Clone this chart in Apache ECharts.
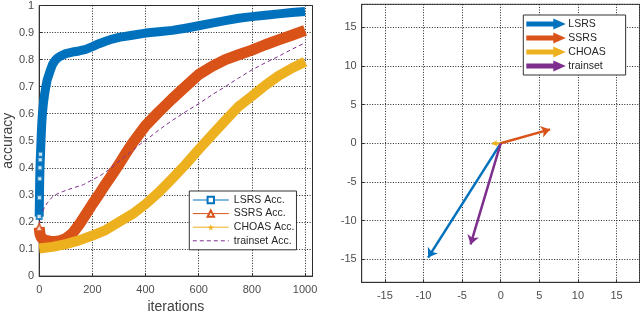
<!DOCTYPE html>
<html><head><meta charset="utf-8">
<script src="https://cdn.jsdelivr.net/npm/echarts@6/dist/echarts.min.js"></script>
<style>html,body{margin:0;padding:0;background:#fff}#c{width:640px;height:319px}</style>
</head><body><div id="c"></div>
<script>
// ---- Left chart data ----
const lsrsIter = [0,1,2,3,4,5,6,8,10,13,16,20,25,30,40,50,60,70,80,100,125,150,175,200,225,250,275,300,350,400,450,500,550,600,650,700,750,800,850,900,950,1000];
const lsrsAcc  = [0.22,0.29,0.36,0.40,0.43,0.45,0.48,0.53,0.57,0.61,0.64,0.67,0.70,0.725,0.755,0.782,0.797,0.807,0.813,0.822,0.828,0.832,0.838,0.848,0.859,0.868,0.876,0.882,0.890,0.898,0.903,0.908,0.916,0.925,0.935,0.944,0.953,0.959,0.964,0.969,0.974,0.978];
const ssrsIter = [0,3,8,20,40,60,80,100,125,150,175,200,225,250,275,300,325,350,375,400,450,500,550,600,650,700,750,800,850,900,950,1000];
const ssrsAcc  = [0.18,0.155,0.142,0.133,0.129,0.128,0.131,0.139,0.158,0.19,0.228,0.266,0.302,0.34,0.376,0.413,0.452,0.49,0.523,0.556,0.607,0.655,0.70,0.745,0.775,0.80,0.818,0.835,0.855,0.873,0.89,0.908];
const choasIter = [0,50,100,150,200,250,300,350,400,450,500,550,600,650,700,750,800,850,900,950,1000];
const choasAcc  = [0.102,0.108,0.118,0.132,0.15,0.17,0.2,0.229,0.266,0.31,0.36,0.412,0.468,0.522,0.575,0.627,0.665,0.705,0.74,0.768,0.792];
const trainIter = [0,5,12,20,31,45,56,75,93,125,167,200,228,260,290,320,352,380,414,450,500,550,600,650,700,750,800,850,900,950,1000];
const trainAcc  = [0.19,0.215,0.235,0.255,0.271,0.288,0.298,0.307,0.314,0.325,0.338,0.356,0.370,0.392,0.416,0.44,0.464,0.488,0.512,0.54,0.575,0.607,0.637,0.67,0.70,0.732,0.762,0.788,0.812,0.838,0.862];
const leftNames = ['LSRS Acc.','SSRS Acc.','CHOAS Acc.','trainset Acc.'];

// ---- Right chart data (quiver vectors from origin) ----
const vecNames = ['LSRS','SSRS','CHOAS','trainset'];
const vecDx = [-9.4, 6.4, -1.1, -3.9];
const vecDy = [-14.8, 1.8, 0, -13.1];

// ---- styles ----
const C = {blue:'#0072BD', red:'#D95319', yellow:'#EDB120', purple:'#7E2F8E'};
const vecColors = [C.blue, C.red, C.yellow, C.purple];
const vecHead = [9, 9, 5, 9];
const FONT = "'Liberation Sans', Arial, sans-serif";
const star = 'path://M50,0 L61,35 L98,35 L68,57 L79,91 L50,70 L21,91 L32,57 L2,35 L39,35 Z';
const arrowIcon = 'path://M0,3 L27,3 L27,0.5 L36,4.5 L27,8.5 L27,6 L0,6 Z';
const zip = (xs, ys) => xs.map((x, i) => [x, ys[i]]);

const gridLine = {show:true, lineStyle:{color:'#222', width:1, type:[1,1.6]}};
const axLine = {show:true, onZero:false, lineStyle:{color:'#333', width:1}};
const lab = {fontSize:11, color:'#4d4d4d', fontFamily:FONT, formatter: v => String(v)};

const bands = [
  {name:'LSRS band', data:zip(lsrsIter, lsrsAcc), color:C.blue, w:9},
  {name:'SSRS band', data:zip(ssrsIter, ssrsAcc), color:C.red, w:11},
  {name:'CHOAS band', data:zip(choasIter, choasAcc), color:C.yellow, w:10}
];

const series = [];
bands.forEach(b => series.push({
  type:'line', name:b.name, xAxisIndex:0, yAxisIndex:0, data:b.data, showSymbol:false, symbol:'none',
  lineStyle:{color:b.color, width:b.w, join:'round'}, itemStyle:{color:b.color}, silent:true, animation:false, z:2
}));
series.push({type:'line', name:'trainset line', xAxisIndex:0, yAxisIndex:0, data:zip(trainIter, trainAcc),
  showSymbol:false, symbol:'none', lineStyle:{color:C.purple, width:1, type:[4,3]}, animation:false, z:3});
// early separate markers
series.push({type:'scatter', name:'LSRS early', xAxisIndex:0, yAxisIndex:0,
  data:zip(lsrsIter, lsrsAcc).slice(0,6), symbol:'emptyRect', symbolSize:5,
  itemStyle:{color:C.blue, borderWidth:1}, animation:false, z:4});
series.push({type:'scatter', name:'SSRS early', xAxisIndex:0, yAxisIndex:0,
  data:zip(ssrsIter, ssrsAcc).slice(0,1), symbol:'emptyTriangle', symbolSize:7,
  itemStyle:{color:C.red, borderWidth:1}, animation:false, z:4});
// legend dummies
const legSym = ['emptyRect','emptyTriangle',star,'none'];
const legCol = [C.blue, C.red, C.yellow, C.purple];
leftNames.forEach((n, i) => series.push({
  type:'line', name:n, xAxisIndex:0, yAxisIndex:0, data:[], symbol:legSym[i],
  lineStyle:{color:legCol[i], width:1, type: i === 3 ? [4,3] : 'solid'}, itemStyle:{color:legCol[i]}
}));
// vectors
vecNames.forEach((n, i) => series.push({
  type:'lines', name:n, coordinateSystem:'cartesian2d', xAxisIndex:1, yAxisIndex:1,
  data:[{coords:[[0,0],[vecDx[i], vecDy[i]]]}], symbol:['none','arrow'], symbolSize:vecHead[i],
  lineStyle:{color:vecColors[i], width:2.5, opacity:1, curveness:0}, itemStyle:{color:vecColors[i]},
  animation:false, z:3 + i
}));

const leftLegendData = leftNames.map((n, i) => i === 3
  ? {name:n, itemStyle:{opacity:0}}
  : {name:n});

const option = {
  animation:false,
  textStyle:{fontFamily:FONT},
  grid:[
    {left:34.5, top:4.5, width:278, height:277.8, show:true, borderColor:'#333', borderWidth:1, containLabel:false},
    {left:361.7, top:4.3, width:278, height:278, show:true, borderColor:'#333', borderWidth:1, containLabel:false}
  ],
  xAxis:[
    {gridIndex:0, type:'value', min:0, max:1028, minInterval:200, maxInterval:200,
     axisLine:axLine, axisTick:{show:true, inside:true, length:3, lineStyle:{color:'#333'}},
     axisLabel:Object.assign({showMaxLabel:false, margin:8}, lab), splitLine:gridLine,
     name:'iterations', nameLocation:'middle', nameGap:23,
     nameTextStyle:{fontSize:14, color:'#404040', fontFamily:FONT}},
    {gridIndex:1, type:'value', min:-18, max:18, minInterval:5, maxInterval:5,
     axisLine:axLine, axisTick:{show:true, inside:true, length:3, lineStyle:{color:'#333'}},
     axisLabel:Object.assign({showMaxLabel:false, showMinLabel:false, margin:8}, lab), splitLine:gridLine}
  ],
  yAxis:[
    {gridIndex:0, type:'value', min:0, max:1, interval:0.1,
     axisLine:axLine, axisTick:{show:true, inside:true, length:3, lineStyle:{color:'#333'}},
     axisLabel:Object.assign({margin:5}, lab), splitLine:gridLine,
     name:'accuracy', nameLocation:'middle', nameGap:19, nameRotate:90,
     nameTextStyle:{fontSize:14, color:'#404040', fontFamily:FONT}},
    {gridIndex:1, type:'value', min:-18, max:18, minInterval:5, maxInterval:5,
     axisLine:axLine, axisTick:{show:true, inside:true, length:3, lineStyle:{color:'#333'}},
     axisLabel:Object.assign({showMaxLabel:false, showMinLabel:false, margin:5}, lab), splitLine:gridLine}
  ],
  legend:[
    {data:leftLegendData, orient:'vertical', left:189.3, top:191, itemWidth:36, itemHeight:8, itemGap:1.6,
     padding:[3,2,3,3], backgroundColor:'#fff', borderColor:'#333', borderWidth:1, borderRadius:0,
     lineStyle:{width:1}, itemStyle:{borderWidth:1},
     selectedMode:false, textStyle:{fontSize:10.5, color:'#262626', lineHeight:12, fontFamily:FONT}},
    {data:vecNames.map(n => ({name:n, icon:arrowIcon})), orient:'vertical', left:523.3, top:15,
     itemWidth:36, itemHeight:8, itemGap:2, padding:[3,20,3,3], backgroundColor:'#fff',
     borderColor:'#333', borderWidth:1, borderRadius:0, selectedMode:false,
     textStyle:{fontSize:10.5, color:'#262626', lineHeight:12, fontFamily:FONT}}
  ],
  series:series
};
const chart = echarts.init(document.getElementById('c'), null, {renderer:'canvas'});
chart.setOption(option);
</script>
</body></html>
